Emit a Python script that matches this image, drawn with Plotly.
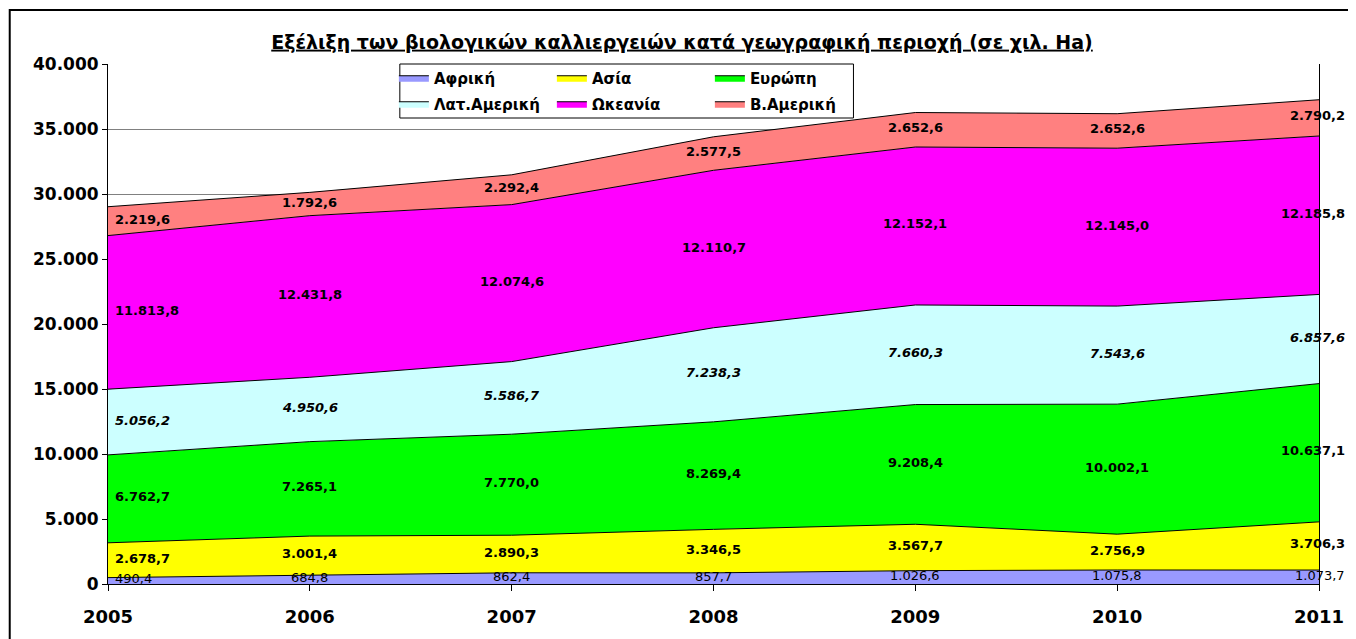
import plotly.graph_objects as go

years = [2005, 2006, 2007, 2008, 2009, 2010, 2011]
africa = [490.4, 684.8, 862.4, 857.7, 1026.6, 1075.8, 1073.7]
asia = [2678.7, 3001.4, 2890.3, 3346.5, 3567.7, 2756.9, 3706.3]
europe = [6762.7, 7265.1, 7770.0, 8269.4, 9208.4, 10002.1, 10637.1]
latam = [5056.2, 4950.6, 5586.7, 7238.3, 7660.3, 7543.6, 6857.6]
oceania = [11813.8, 12431.8, 12074.6, 12110.7, 12152.1, 12145.0, 12185.8]
namerica = [2219.6, 1792.6, 2292.4, 2577.5, 2652.6, 2652.6, 2790.2]

names = ["Αφρική", "Ασία", "Ευρώπη", "Λατ.Αμερική", "Ωκεανία", "Β.Αμερική"]
colors = ["#9999FF", "#FFFF00", "#00FF00", "#CCFFFF", "#FF00FF", "#FF8080"]
series = [africa, asia, europe, latam, oceania, namerica]

FONT = "DejaVu Sans, Arial, sans-serif"


def fmt(v):
    s = f"{v:,.1f}"
    return s.replace(",", "X").replace(".", ",").replace("X", ".")


fig = go.Figure()
for i, (name, col, vals) in enumerate(zip(names, colors, series)):
    fig.add_trace(go.Scatter(
        x=years, y=vals, name=name, stackgroup="one", mode="lines",
        line=dict(color="black", width=1), fillcolor=col,
        legend="legend" if i < 3 else "legend2",
        hoverinfo="skip"))

# data labels in the middle of each band
base = [0.0] * len(years)
for i, vals in enumerate(series):
    for j, yr in enumerate(years):
        mid = base[j] + vals[j] / 2
        if j == 0:
            anchor, shift = "left", 5
        elif j == len(years) - 1:
            anchor, shift = "right", 28
        else:
            anchor, shift = "center", 0
        fig.add_annotation(
            x=yr, y=mid, text=fmt(vals[j]), showarrow=False,
            xanchor=anchor, xshift=shift, yshift=2,
            font=dict(family=FONT, size=13, color="black",
                      weight="normal" if i == 0 else "bold",
                      style="italic" if i == 3 else "normal"))
    base = [b + v for b, v in zip(base, vals)]

# page has an 8px body margin, so figure coordinates are page - 8
W, H = 1348, 631
ml, mr, mt, mb = 100, 28, 56, 55
pw, ph = W - ml - mr, H - mt - mb


def px_x(p):
    return (p - 8 - ml) / pw


def px_y(p):
    return (H - mb - (p - 8)) / ph


# outer chart border and legend box
fig.add_shape(type="rect", xref="paper", yref="paper",
              x0=px_x(9), x1=px_x(1370), y0=px_y(660), y1=px_y(10),
              line=dict(color="black", width=2), layer="below")
fig.add_shape(type="rect", xref="paper", yref="paper",
              x0=px_x(402), x1=px_x(859), y0=px_y(118), y1=px_y(64),
              line=dict(color="black", width=1), fillcolor="white", layer="above")

leg = dict(orientation="h", entrywidth=113, entrywidthmode="pixels",
           bgcolor="rgba(0,0,0,0)", xanchor="left", yanchor="middle",
           traceorder="normal",
           font=dict(family=FONT, size=15, color="black", weight="bold"),
           itemwidth=30, tracegroupgap=0)

fig.update_layout(
    width=W, height=H,
    margin=dict(l=ml, r=mr, t=mt, b=mb),
    paper_bgcolor="white", plot_bgcolor="white",
    separators=",.",
    title=dict(text="<u>Εξέλιξη των βιολογικών καλλιεργειών κατά γεωγραφική περιοχή (σε χιλ. Ha)</u>",
               x=(682 - 8) / W, xanchor="center", y=1 - 34 / H, yanchor="middle",
               font=dict(family=FONT, size=19, color="black", weight="bold")),
    legend=dict(leg, x=px_x(396), y=px_y(78)),
    legend2=dict(leg, x=px_x(396), y=px_y(104)),
    xaxis=dict(range=[2005, 2011], tickvals=years, showgrid=False,
               showline=True, linecolor="black", linewidth=1,
               ticks="outside", ticklen=6, tickcolor="black",
               ticklabelstandoff=10,
               tickfont=dict(family=FONT, size=18, color="black", weight="bold"),
               zeroline=False),
    yaxis=dict(range=[0, 40000], dtick=5000, tickformat=",d",
               showgrid=True, gridcolor="#808080", gridwidth=1,
               showline=True, linecolor="black", linewidth=1, mirror=True,
               ticks="outside", ticklen=5, tickcolor="black",
               tickfont=dict(family=FONT, size=17, color="black", weight="bold"),
               zeroline=False),
    showlegend=True,
)

fig.write_html("out.html")
